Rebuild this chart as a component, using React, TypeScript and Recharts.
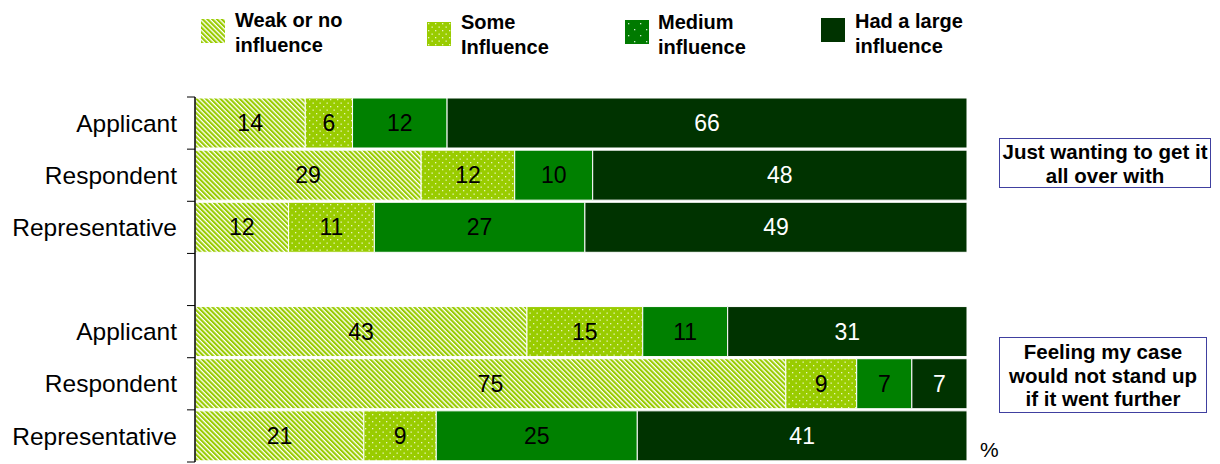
import React from "react";
import { BarChart, Bar, XAxis, YAxis, LabelList } from "recharts";

// rows top to bottom; the empty row is the gap between the two groups
const rowKeys = ["a1", "r1", "p1", "gap", "a2", "r2", "p2"];
const rowLabels = ["Applicant", "Respondent", "Representative", "", "Applicant", "Respondent", "Representative"];

const weak = [14, 29, 12, 0, 43, 75, 21];
const some = [6, 12, 11, 0, 15, 9, 9];
const medium = [12, 10, 27, 0, 11, 7, 25];
const large = [66, 48, 49, 0, 31, 7, 41];

const series = [
  { key: "weak", name: ["Weak or no", "influence"], fill: "url(#weakStripe)", swatch: "url(#weakStripe)", text: "#000" },
  { key: "some", name: ["Some", "Influence"], fill: "url(#someDots)", swatch: "url(#someDots)", text: "#000" },
  { key: "medium", name: ["Medium", "influence"], fill: "#008000", swatch: "url(#medDots)", text: "#000" },
  { key: "large", name: ["Had a large", "influence"], fill: "#003300", swatch: "#003300", text: "#fff" },
];

const data = rowKeys.map((k, i) => ({
  key: k,
  weak: weak[i],
  some: some[i],
  medium: medium[i],
  large: large[i],
}));

const FONT = "'Liberation Sans', Arial, sans-serif";
const TOP = 97;
const BOTTOM = 2;
const H = 464;
const BAND = (H - TOP - BOTTOM) / rowKeys.length;

function RowTick(props: any) {
  const { x, y, payload, index } = props;
  const axisX = x + 18;
  const half = BAND / 2;
  return (
    <g>
      <line x1={axisX - 8} x2={axisX} y1={y - half} y2={y - half} stroke="#000" />
      {index === rowKeys.length - 1 && (
        <line x1={axisX - 8} x2={axisX} y1={y + half} y2={y + half} stroke="#000" />
      )}
      <text x={x} y={y} dy="0.35em" textAnchor="end" fontSize={24.5} fill="#000" fontFamily={FONT}>
        {rowLabels[rowKeys.indexOf(payload.value)]}
      </text>
    </g>
  );
}

const makeLabel = (color: string) => (props: any) => {
  const { x, y, width, height, value } = props;
  if (!value) return null;
  return (
    <text
      x={x + width / 2}
      y={y + height / 2}
      dy="0.35em"
      textAnchor="middle"
      fontSize={23}
      fill={color}
      fontFamily={FONT}
    >
      {value}
    </text>
  );
};

const legendPos = [
  { sx: 201, sy: 19, tx: 235, ty: 8 },
  { sx: 427, sy: 22, tx: 461, ty: 9.5 },
  { sx: 625, sy: 20, tx: 658, ty: 10 },
  { sx: 821, sy: 18, tx: 855, ty: 9 },
];

function Patterns() {
  return (
    <svg width={0} height={0} style={{ position: "absolute" }}>
      <defs>
        <pattern id="weakStripe" patternUnits="userSpaceOnUse" width={3.4} height={4} patternTransform="rotate(-45)">
          <rect width={3.4} height={4} fill="#ffffff" />
          <rect width={2.1} height={4} fill="#99cc00" />
        </pattern>
        <pattern id="someDots" patternUnits="userSpaceOnUse" width={7} height={7}>
          <rect width={7} height={7} fill="#99cc00" />
          <rect x={1} y={1} width={1.3} height={1.3} fill="#e8f5c0" />
          <rect x={4.5} y={4.5} width={1.3} height={1.3} fill="#e8f5c0" />
        </pattern>
        <pattern id="medDots" patternUnits="userSpaceOnUse" width={12} height={12}>
          <rect width={12} height={12} fill="#007a00" />
          <rect x={3} y={3} width={1.3} height={1.3} fill="#ccebcc" />
          <rect x={9} y={9} width={1.3} height={1.3} fill="#ccebcc" />
        </pattern>
      </defs>
    </svg>
  );
}

export default function App() {
  return (
    <div style={{ position: "absolute", left: 0, top: 0, width: 1220, height: H, fontFamily: FONT, background: "#fff" }}>
      <Patterns />
      <BarChart
        width={1220}
        height={H}
        data={data}
        layout="vertical"
        stackOffset="expand"
        barCategoryGap={1}
        margin={{ top: TOP, right: 253, bottom: BOTTOM, left: 0 }}
      >
        <XAxis type="number" domain={[0, 1]} hide />
        <YAxis
          type="category"
          dataKey="key"
          width={195}
          axisLine={{ stroke: "#000", strokeWidth: 1.5 }}
          tickLine={false}
          tickSize={8}
          tickMargin={10}
          interval={0}
          tick={<RowTick />}
        />
        {series.map((s) => (
          <Bar key={s.key} dataKey={s.key} stackId="a" fill={s.fill} stroke="#fff" strokeWidth={1} isAnimationActive={false}>
            <LabelList dataKey={s.key} content={makeLabel(s.text)} />
          </Bar>
        ))}
      </BarChart>

      {series.map((s, i) => (
        <React.Fragment key={s.key}>
          <svg width={25} height={25} style={{ position: "absolute", left: legendPos[i].sx, top: legendPos[i].sy }}>
            <rect width={24} height={24} fill={s.swatch} />
          </svg>
          <div
            style={{
              position: "absolute",
              left: legendPos[i].tx,
              top: legendPos[i].ty,
              fontSize: 20,
              fontWeight: "bold",
              lineHeight: "25px",
              whiteSpace: "nowrap",
            }}
          >
            {s.name[0]}
            <br />
            {s.name[1]}
          </div>
        </React.Fragment>
      ))}

      <div
        style={{
          position: "absolute",
          left: 999,
          top: 138,
          width: 212,
          height: 50,
          border: "1.5px solid #4040a0",
          fontSize: 20.5,
          fontWeight: "bold",
          lineHeight: "23.5px",
          textAlign: "center",
          whiteSpace: "nowrap",
          boxSizing: "border-box",
          paddingTop: 1,
        }}
      >
        Just wanting to get it
        <br />
        all over with
      </div>
      <div
        style={{
          position: "absolute",
          left: 999,
          top: 337,
          width: 208,
          height: 76,
          border: "1.5px solid #4040a0",
          fontSize: 20.5,
          fontWeight: "bold",
          lineHeight: "23.5px",
          textAlign: "center",
          whiteSpace: "nowrap",
          boxSizing: "border-box",
          paddingTop: 2,
        }}
      >
        Feeling my case
        <br />
        would not stand up
        <br />
        if it went further
      </div>
      <div style={{ position: "absolute", left: 980, top: 438, fontSize: 21, lineHeight: "24px" }}>%</div>
    </div>
  );
}
